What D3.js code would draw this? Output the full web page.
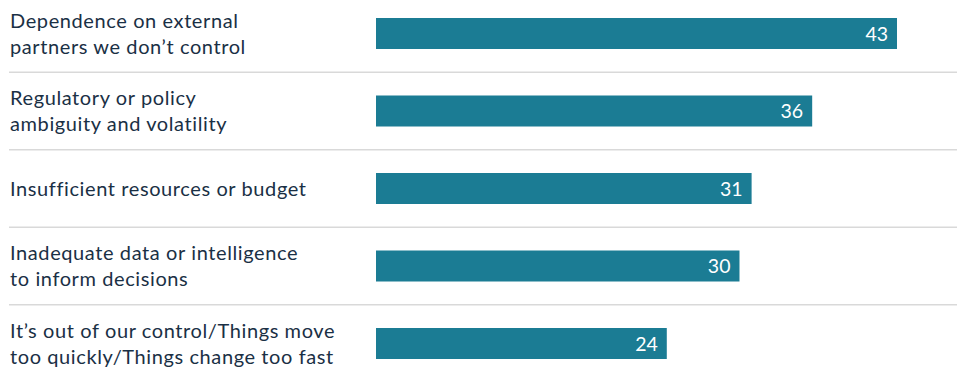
<!DOCTYPE html>
<html>
<head>
<meta charset="utf-8">
<script src="https://cdn.jsdelivr.net/npm/d3@7"></script>
<style>
  html, body { margin: 0; padding: 0; background: #ffffff; }
  svg { display: block; }
</style>
</head>
<body>
<svg id="chart" width="962" height="379"></svg>
<script>
// Challenges, share of respondents
const categories = [
  ["Dependence on external", "partners we don\u2019t control"],
  ["Regulatory or policy", "ambiguity and volatility"],
  ["Insufficient resources or budget"],
  ["Inadequate data or intelligence", "to inform decisions"],
  ["It\u2019s out of our control/Things move", "too quickly/Things change too fast"]
];
const values = [43, 36, 31, 30, 24];

const W = 962, H = 379;
const svg = d3.select("#chart");
const keys = categories.map((c, i) => i);

const x = d3.scaleLinear().domain([0, 43]).range([376, 897]);
const y = d3.scaleBand().domain(keys).range([-5.25, 382.25])
  .paddingInner(0.6).paddingOuter(0.3);
const step = y.step();

// separators between rows
svg.append("g").selectAll("line")
  .data(keys.slice(1))
  .join("line")
  .attr("x1", 9).attr("x2", 957)
  .attr("y1", d => y(d) - (step - y.bandwidth()) / 2)
  .attr("y2", d => y(d) - (step - y.bandwidth()) / 2)
  .attr("stroke", "#d9d9d9").attr("stroke-width", 1.5);

// bars
svg.append("g").selectAll("rect")
  .data(values)
  .join("rect")
  .attr("x", x(0))
  .attr("y", (d, i) => y(i))
  .attr("width", d => x(d) - x(0))
  .attr("height", y.bandwidth())
  .attr("fill", "#1b7c94");

// value labels inside bar ends
svg.append("g").selectAll("text")
  .data(values)
  .join("text")
  .attr("x", d => x(d) - 9)
  .attr("y", (d, i) => y(i) + y.bandwidth() / 2 + 7)
  .attr("text-anchor", "end")
  .attr("fill", "#ffffff")
  .attr("font-family", "Lato, 'Open Sans', sans-serif")
  .attr("font-size", 19.5)
  .text(d => d);

// category labels
const lineH = 26;
const lab = svg.append("g").selectAll("text")
  .data(categories)
  .join("text")
  .attr("font-family", "Lato, 'Open Sans', sans-serif")
  .attr("font-size", 20)
  .attr("letter-spacing", 0.6)
  .attr("fill", "#1a3045")
  .attr("x", 10)
  .attr("y", (d, i) => y(i) + y.bandwidth() / 2 + 7 - (d.length - 1) * lineH / 2);
lab.selectAll("tspan")
  .data(d => d)
  .join("tspan")
  .attr("x", 10)
  .attr("dy", (d, j) => j === 0 ? 0 : lineH)
  .text(d => d);
</script>
</body>
</html>
